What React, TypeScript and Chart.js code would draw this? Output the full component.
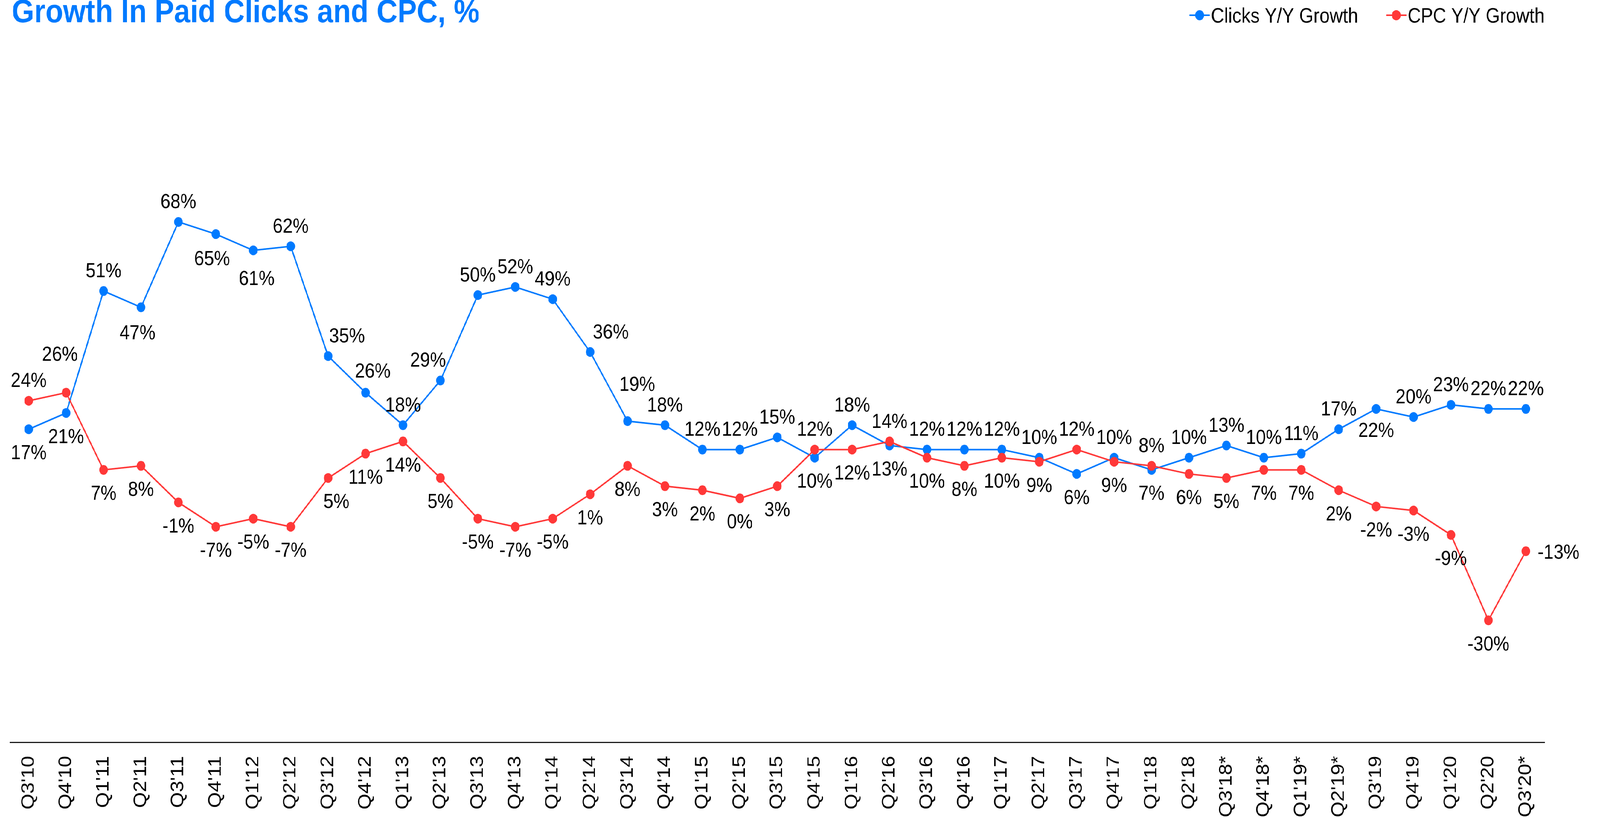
import React, { useEffect, useRef } from "react";
import { Chart, registerables } from "chart.js";

Chart.register(...registerables);

// ---------- data ----------
const categories = [
  "Q3'10", "Q4'10", "Q1'11", "Q2'11", "Q3'11", "Q4'11", "Q1'12", "Q2'12",
  "Q3'12", "Q4'12", "Q1'13", "Q2'13", "Q3'13", "Q4'13", "Q1'14", "Q2'14",
  "Q3'14", "Q4'14", "Q1'15", "Q2'15", "Q3'15", "Q4'15", "Q1'16", "Q2'16",
  "Q3'16", "Q4'16", "Q1'17", "Q2'17", "Q3'17", "Q4'17", "Q1'18", "Q2'18",
  "Q3'18*", "Q4'18*", "Q1'19*", "Q2'19*", "Q3'19", "Q4'19", "Q1'20", "Q2'20",
  "Q3'20*",
];

const clicksGrowth = [
  17, 21, 51, 47, 68, 65, 61, 62, 35, 26, 18, 29, 50, 52, 49, 36, 19, 18, 12, 12,
  15, 10, 18, 13, 12, 12, 12, 10, 6, 10, 7, 10, 13, 10, 11, 17, 22, 20, 23, 22,
  22,
];

const cpcGrowth = [
  24, 26, 7, 8, -1, -7, -5, -7, 5, 11, 14, 5, -5, -7, -5, 1, 8, 3, 2, 0,
  3, 12, 12, 14, 10, 8, 10, 9, 12, 9, 8, 6, 5, 7, 7, 2, -2, -3, -9, -30,
  -13,
];

const seriesNames = ["Clicks Y/Y Growth", "CPC Y/Y Growth"];
const titleText = "Growth In Paid Clicks and CPC, %";

// ---------- styles ----------
const BLUE = "#007AFF";
const RED = "#FF3838";
const FONT = "'Liberation Sans', Arial, Helvetica, sans-serif";
const DESIGN_W = 4646;
const DESIGN_H = 2095;

// label placement: a = above, b = below, r = right
const clicksLabelPos = [
  "b", "b", "a", "b", "a", "b", "b", "a", "a", "a", "a", "a", "a", "a", "a", "a",
  "a", "a", "a", "a", "a", "b", "a", "b", "a", "a", "a", "a", "b", "a", "b", "a",
  "a", "a", "a", "a", "b", "a", "a", "a", "a",
];
const cpcLabelPos = [
  "a", "a", "b", "b", "b", "b", "b", "b", "b", "b", "b", "b", "b", "b", "b", "b",
  "b", "b", "b", "b", "b", "a", "b", "a", "b", "b", "b", "b", "a", "b", "a", "b",
  "b", "b", "b", "b", "b", "b", "b", "b", "r",
];
const labelNudges: Record<string, { dx?: number; dy?: number }> = {
  "0:3": { dx: -10, dy: 63 },
  "0:5": { dx: -11, dy: 60 },
  "0:6": { dx: 10, dy: 70 },
  "0:8": { dx: 55 },
  "0:9": { dx: 21, dy: -58 },
  "0:11": { dx: -36 },
  "0:15": { dx: 60 },
  "0:16": { dx: 28, dy: -97 },
  "0:36": { dy: 53 },
  "1:1": { dx: -18, dy: -101 },
  "1:8": { dx: 24 },
};

const valueLabelsPlugin = {
  id: "valueLabels",
  afterDatasetsDraw(chart: any) {
    const ctx = chart.ctx;
    ctx.save();
    ctx.font = `52px ${FONT}`;
    ctx.fillStyle = "#000";
    ctx.textAlign = "center";
    ctx.textBaseline = "alphabetic";
    chart.data.datasets.forEach((ds: any, di: number) => {
      const meta = chart.getDatasetMeta(di);
      const pos = di === 0 ? clicksLabelPos : cpcLabelPos;
      meta.data.forEach((pt: any, i: number) => {
        const p = pos[i];
        let dx = 0;
        let dy = p === "a" ? -54 : p === "b" ? 58 : 0;
        if (p === "r") dx = 95;
        const n = labelNudges[`${di}:${i}`];
        if (n) {
          if (n.dx !== undefined) dx = n.dx;
          if (n.dy !== undefined) dy = n.dy;
        }
        ctx.fillText(`${ds.data[i]}%`, pt.x + dx, pt.y + dy + 19);
      });
    });
    ctx.restore();
  },
};

const headerPlugin = {
  id: "header",
  afterDraw(chart: any) {
    const ctx = chart.ctx;
    ctx.save();
    ctx.font = `bold 84px ${FONT}`;
    ctx.fillStyle = BLUE;
    ctx.textAlign = "left";
    ctx.textBaseline = "alphabetic";
    ctx.fillText(titleText, 34, 57);
    ctx.font = `53px ${FONT}`;
    const baseline = 58;
    const markerY = 39;
    let right = chart.chartArea.right;
    const ds = chart.data.datasets;
    for (let k = ds.length - 1; k >= 0; k--) {
      const text = ds[k].label as string;
      const color = ds[k].borderColor as string;
      const w = ctx.measureText(text).width;
      const textX = right - w;
      ctx.fillStyle = "#000";
      ctx.fillText(text, textX, baseline);
      const lineEnd = textX - 5;
      const lineStart = lineEnd - 56;
      ctx.strokeStyle = color;
      ctx.lineWidth = 4;
      ctx.lineCap = "round";
      ctx.beginPath();
      ctx.moveTo(lineStart, markerY);
      ctx.lineTo(lineEnd, markerY);
      ctx.stroke();
      ctx.fillStyle = color;
      ctx.beginPath();
      ctx.arc((lineStart + lineEnd) / 2, markerY, 13, 0, Math.PI * 2);
      ctx.fill();
      right = lineStart - 83;
    }
    ctx.restore();
  },
};

export default function App() {
  const canvasRef = useRef<HTMLCanvasElement | null>(null);
  const vw = typeof window !== "undefined" ? window.innerWidth : DESIGN_W;
  const vh = typeof window !== "undefined" ? window.innerHeight : DESIGN_H;
  const sx = vw / DESIGN_W;
  const sy = vh / DESIGN_H;

  useEffect(() => {
    const canvas = canvasRef.current;
    if (!canvas) return;
    const chart = new Chart(canvas, {
      type: "line",
      data: {
        labels: categories,
        datasets: [
          {
            label: seriesNames[0],
            data: clicksGrowth,
            borderColor: BLUE,
            backgroundColor: BLUE,
            borderWidth: 4,
            pointRadius: 12.5,
            pointBorderWidth: 0,
            pointBackgroundColor: BLUE,
            tension: 0,
            order: 1,
          },
          {
            label: seriesNames[1],
            data: cpcGrowth,
            borderColor: RED,
            backgroundColor: RED,
            borderWidth: 4,
            pointRadius: 12.5,
            pointBorderWidth: 0,
            pointBackgroundColor: RED,
            tension: 0,
            order: 0,
          },
        ],
      },
      options: {
        responsive: false,
        devicePixelRatio: 1,
        animation: false,
        layout: { padding: { left: 29, right: 161, top: 27, bottom: 0 } },
        plugins: {
          legend: { display: false },
          title: { display: false },
          tooltip: { enabled: false },
        },
        scales: {
          x: {
            type: "category",
            offset: true,
            grid: { display: false, drawTicks: false },
            border: { display: true, color: "#1a1a1a", width: 3 },
            ticks: {
              autoSkip: false,
              minRotation: 90,
              maxRotation: 90,
              padding: 35,
              color: "#000",
              font: { size: 52, family: FONT },
            },
            afterFit: (scale: any) => {
              scale.height = 194;
            },
          },
          y: {
            display: false,
            min: -60,
            max: 120,
          },
        },
      },
      plugins: [valueLabelsPlugin, headerPlugin],
    });
    return () => chart.destroy();
  }, []);

  return (
    <div
      style={{
        position: "fixed",
        left: 0,
        top: 0,
        width: `${DESIGN_W}px`,
        height: `${DESIGN_H}px`,
        background: "#fff",
        transform: `scale(${sx}, ${sy})`,
        transformOrigin: "0 0",
      }}
    >
      <canvas
        ref={canvasRef}
        width={DESIGN_W}
        height={DESIGN_H}
        style={{ width: `${DESIGN_W}px`, height: `${DESIGN_H}px`, display: "block" }}
      />
    </div>
  );
}
